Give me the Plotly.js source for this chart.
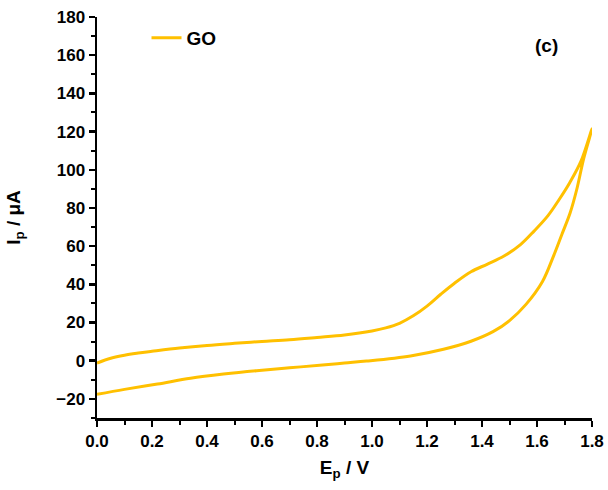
<!DOCTYPE html>
<html>
<head>
<meta charset="utf-8">
<script src="https://cdn.plot.ly/plotly-3.0.1.min.js"></script>
<style>html,body{margin:0;padding:0;background:#fff;}</style>
</head>
<body>
<div id="chart" style="width:608px;height:490px;"></div>
<script>
// Cyclic voltammogram of GO: forward (anodic) sweep then reverse sweep
const forwardE = [0, 0.05, 0.1, 0.15, 0.2, 0.3, 0.4, 0.5, 0.6, 0.7, 0.8, 0.9, 1.0, 1.05, 1.1, 1.15, 1.2, 1.25, 1.3, 1.36, 1.42, 1.48, 1.54, 1.59, 1.64, 1.68, 1.72, 1.76, 1.8];
const forwardI = [-1.2, 1.3, 2.9, 4.0, 4.9, 6.6, 8.0, 9.1, 10.1, 11.0, 12.2, 13.5, 15.6, 17.2, 19.6, 23.5, 28.6, 34.8, 40.6, 46.6, 50.6, 54.8, 60.8, 68.0, 76.0, 84.3, 93.5, 104.5, 121.5];
const reverseE = [1.8, 1.77, 1.744, 1.72, 1.69, 1.66, 1.62, 1.56, 1.5, 1.44, 1.36, 1.26, 1.14, 0.98, 0.9, 0.82, 0.7, 0.58, 0.46, 0.34, 0.22, 0.1, 0.0];
const reverseI = [121.5, 106, 89.4, 77.2, 66, 54.8, 41.5, 29.5, 21, 15.2, 10.2, 6, 2.5, -0.2, -1.2, -2.3, -3.7, -5.2, -7, -9.2, -12.2, -15, -17.6];

const seriesName = "GO";
const panelLabel = "(c)";
const lineColor = "#FFC000";

const E = forwardE.concat(reverseE.slice(1));
const I = forwardI.concat(reverseI.slice(1));

const font = {family: "Liberation Sans, Arial, sans-serif", color: "#000"};
const bold = (size) => Object.assign({size: size, weight: "bold"}, font);

const trace = {
  x: E, y: I, type: "scatter", mode: "lines", name: seriesName,
  line: {color: lineColor, width: 3, shape: "spline", smoothing: 1}
};

const axisCommon = {
  showgrid: false, zeroline: false, showline: true,
  linecolor: "#000", linewidth: 2.5,
  ticks: "outside", ticklen: 6, tickwidth: 2.5, tickcolor: "#000",
  tickfont: bold(17),
  mirror: false
};

const layout = {
  width: 608, height: 490,
  margin: {l: 97, r: 16, t: 17, b: 72},
  paper_bgcolor: "#fff", plot_bgcolor: "#fff",
  font: font,
  showlegend: true,
  legend: {
    x: 0.1, y: 0.995, xanchor: "left", yanchor: "top",
    bgcolor: "rgba(0,0,0,0)",
    font: bold(19)
  },
  xaxis: Object.assign({}, axisCommon, {
    range: [0, 1.8], dtick: 0.2, tick0: 0, tickformat: ".1f",
    minor: {dtick: 0.1, ticklen: 4, tickwidth: 2, tickcolor: "#000", ticks: "outside"},
    title: {text: "E<sub>p</sub> / V", font: bold(19), standoff: 11}
  }),
  yaxis: Object.assign({}, axisCommon, {
    range: [-30, 180], dtick: 20, tick0: 0,
    minor: {dtick: 10, ticklen: 4, tickwidth: 2, tickcolor: "#000", ticks: "outside"},
    title: {text: "I<sub>p</sub> / μA", font: bold(19), standoff: 31}
  }),
  annotations: [{
    text: panelLabel, xref: "paper", yref: "paper",
    x: 0.909, y: 0.93, xanchor: "center", yanchor: "middle",
    showarrow: false, font: bold(19)
  }]
};

Plotly.newPlot("chart", [trace], layout, {displayModeBar: false, staticPlot: true});
</script>
</body>
</html>
